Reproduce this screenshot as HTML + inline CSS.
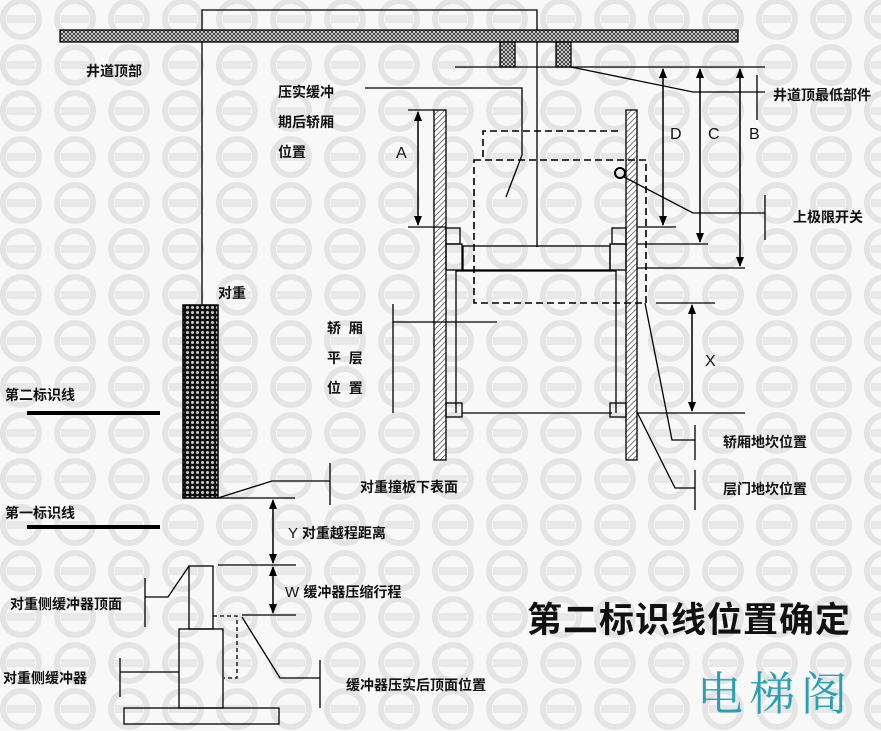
<!DOCTYPE html>
<html><head><meta charset="utf-8"><style>
html,body{margin:0;padding:0;background:#f6f6f6;}
svg{display:block}
text{font-family:"Liberation Sans","Noto Sans CJK SC",sans-serif;font-weight:bold;font-size:14px;fill:#111}
</style></head><body>
<svg width="881" height="731" xmlns="http://www.w3.org/2000/svg">
<defs>
<pattern id="wm" width="54" height="46" patternUnits="userSpaceOnUse" x="-6" y="-4">
<circle cx="27" cy="23" r="18" fill="none" stroke="#e4e4e4" stroke-width="6"/>
<rect x="13" y="19" width="28" height="8" fill="#e8e8e8"/>
</pattern>
<pattern id="hatch" width="4" height="4" patternUnits="userSpaceOnUse" patternTransform="rotate(45)">
<rect width="4" height="4" fill="#fff"/><line x1="0" y1="0" x2="0" y2="4" stroke="#444" stroke-width="1.4"/>
</pattern>
<pattern id="xh" width="4" height="4" patternUnits="userSpaceOnUse">
<rect width="4" height="4" fill="#fff"/><path d="M0 0L4 4M4 0L0 4" stroke="#333" stroke-width="1"/>
</pattern>
<pattern id="cw" width="5" height="5" patternUnits="userSpaceOnUse">
<rect width="5" height="5" fill="#111"/><circle cx="2.5" cy="2.5" r="1.5" fill="#ccc"/>
</pattern>
<marker id="ar" markerWidth="10" markerHeight="10" refX="9" refY="5" orient="auto" markerUnits="userSpaceOnUse">
<path d="M0 1L10 5L0 9Z" fill="#000"/></marker>
</defs>
<rect width="881" height="731" fill="#f8f8f8"/>
<rect width="881" height="731" fill="url(#wm)"/>
<g stroke="#000" stroke-width="1.3" fill="none">
<path d="M202 305V10H537V247"/>
<rect x="60" y="30" width="678" height="12" fill="url(#xh)"/>
<rect x="500" y="42" width="15" height="25" fill="url(#xh)"/>
<rect x="556" y="42" width="15" height="25" fill="url(#xh)"/>
<path d="M455 67H765"/>
<path d="M571 67L693 92H765M757 75V120"/>
<rect x="434" y="110" width="12" height="350" fill="url(#hatch)"/>
<rect x="626" y="110" width="11" height="350" fill="url(#hatch)"/>
<path d="M408 110H434M408 227H446"/>
<path d="M418 112V225" marker-end="url(#ar)"/>
<path d="M418 225V112" marker-end="url(#ar)"/>
<path d="M663 69V225" marker-end="url(#ar)"/><path d="M663 225V69" marker-end="url(#ar)"/>
<path d="M700 69V242" marker-end="url(#ar)"/><path d="M700 242V69" marker-end="url(#ar)"/>
<path d="M740 69V266" marker-end="url(#ar)"/><path d="M740 266V69" marker-end="url(#ar)"/>
<path d="M637 227H676M637 244H708M637 268H745"/>
<circle cx="620" cy="173" r="5" stroke-width="2"/>
<path d="M624 177L693 213H765M765 195V240"/>
<g stroke-dasharray="7,4" stroke-width="1.6">
<path d="M483 157V131H622"/>
<rect x="474" y="160" width="172" height="143"/>
</g>
<path d="M365 88H522V155L506 197"/>
<rect x="463" y="246" width="147" height="24"/>
<path d="M456 413V271H616V413"/>
<path d="M462 413H612"/>
<rect x="446" y="228" width="14" height="16"/><rect x="446" y="244" width="16" height="26"/>
<rect x="612" y="228" width="14" height="16"/><rect x="610" y="244" width="16" height="26"/>
<rect x="446" y="403" width="16" height="14"/><rect x="610" y="403" width="16" height="14"/>
<path d="M656 303H715M637 413H745"/>
<path d="M692 305V411" marker-end="url(#ar)"/><path d="M692 411V305" marker-end="url(#ar)"/>
<path d="M393 304V413M393 322H497"/>
<path d="M645 303L672 440H695M695 425V460"/>
<path d="M637 412L675 488H695M695 470V510"/>
<rect x="183" y="305" width="35" height="193" fill="url(#cw)" stroke-width="1.5"/>
<path d="M218 498H295M218 498L272 481H330M330 463V505"/>
<path d="M218 565H296M242 615H296"/>
<path d="M273 500V563" marker-end="url(#ar)"/><path d="M273 563V500" marker-end="url(#ar)"/>
<path d="M273 567V613" marker-end="url(#ar)"/><path d="M273 613V567" marker-end="url(#ar)"/>
<rect x="189" y="566" width="24" height="63"/>
<rect x="179" y="629" width="44" height="79"/>
<rect x="124" y="708" width="155" height="16"/>
<path d="M213 616H237V678H224" stroke-dasharray="4,3"/>
<path d="M145 597H168L189 566M145 578V627"/>
<path d="M120 672H179M120 658V697"/>
<path d="M242 617L280 678H320M320 660V708"/>
</g>
<g stroke="#000" stroke-width="4"><path d="M27 413H160M27 527H160"/></g>
<g>
<text x="86" y="76">井道顶部</text>
<text x="278" y="97">压实缓冲</text>
<text x="278" y="127">期后轿厢</text>
<text x="278" y="157">位置</text>
<text x="773" y="100">井道顶最低部件</text>
<text x="793" y="222">上极限开关</text>
<text x="218" y="298">对重</text>
<text x="327" y="333">轿&#160;&#160;厢</text>
<text x="327" y="363">平&#160;&#160;层</text>
<text x="327" y="393">位&#160;&#160;置</text>
<text x="723" y="447">轿厢地坎位置</text>
<text x="723" y="494">层门地坎位置</text>
<text x="5" y="400">第二标识线</text>
<text x="5" y="518">第一标识线</text>
<text x="360" y="492">对重撞板下表面</text>
<text x="288" y="538" style="font-weight:normal;font-size:15px">Y <tspan style="font-weight:bold;font-size:14px">对重越程距离</tspan></text>
<text x="285" y="597" style="font-weight:normal;font-size:15px">W <tspan style="font-weight:bold;font-size:14px">缓冲器压缩行程</tspan></text>
<text x="10" y="609">对重侧缓冲器顶面</text>
<text x="3" y="683">对重侧缓冲器</text>
<text x="346" y="690">缓冲器压实后顶面位置</text>
<text x="396" y="158" style="font-weight:normal;font-size:16px">A</text>
<text x="670" y="139" style="font-weight:normal;font-size:16px">D</text>
<text x="708" y="139" style="font-weight:normal;font-size:16px">C</text>
<text x="749" y="139" style="font-weight:normal;font-size:16px">B</text>
<text x="705" y="366" style="font-weight:normal;font-size:16px">X</text>
<text x="527" y="632" style="font-size:35px;letter-spacing:1px">第二标识线位置确定</text>
<text x="697" y="710" style="font-family:'Noto Serif CJK SC',serif;font-weight:normal;font-size:46px;fill:#2aa0b4;letter-spacing:6px">电梯阁</text>
</g>
</svg>
</body></html>
